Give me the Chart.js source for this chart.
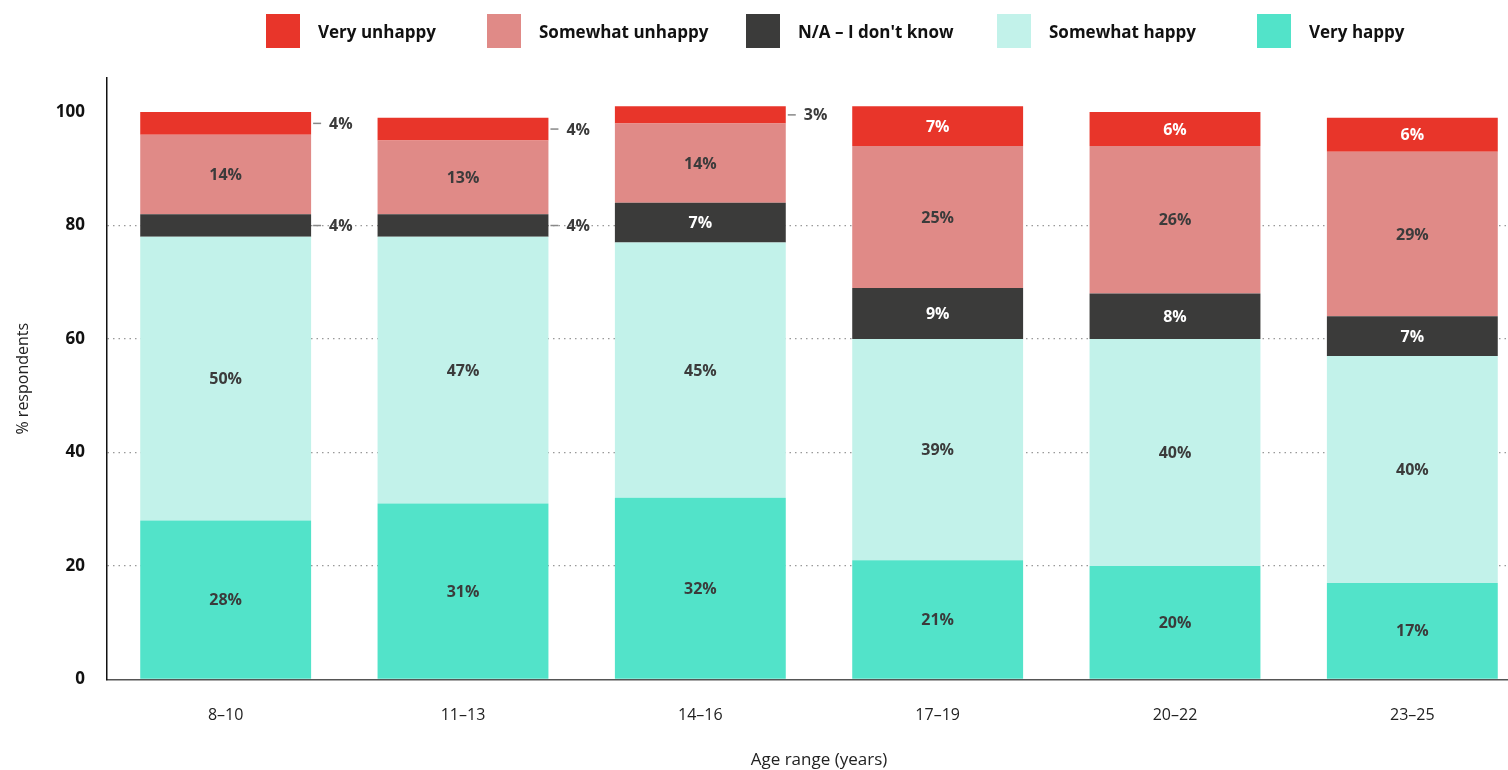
<!DOCTYPE html>
<html>
<head>
<meta charset="utf-8">
<script src="https://cdn.jsdelivr.net/npm/chart.js@4/dist/chart.umd.min.js"></script>
<style>
  body { margin: 0; overflow: hidden; background: #fff; font-family: 'Open Sans', sans-serif; }
  #wrap { position: relative; width: 1531px; height: 770px; }
  #legend { position: absolute; top: 14px; left: 0; height: 34px; width: 1531px; }
  .item { position: absolute; top: 0; display: flex; align-items: center; font-weight: 700; font-size: 17px; color: #111; white-space: nowrap; }
  .box { width: 34px; height: 34px; margin-right: 18px; }
</style>
</head>
<body>
<div id="wrap">
  <canvas id="chart" width="1531" height="770"></canvas>
  <div id="legend"></div>
</div>
<script>
"use strict"

const categories = ['8–10', '11–13', '14–16', '17–19', '20–22', '23–25'];
const veryHappy = [28, 31, 32, 21, 20, 17];
const somewhatHappy = [50, 47, 45, 39, 40, 40];
const dontKnow = [4, 4, 7, 9, 8, 7];
const somewhatUnhappy = [14, 13, 14, 25, 26, 29];
const veryUnhappy = [4, 4, 3, 7, 6, 6];
const yTicks = [0, 20, 40, 60, 80, 100];

const FONT = "'Open Sans'";

// bottom to top, label colour inside the bar
const series = [
  { label: 'Very happy', data: veryHappy, color: '#52e3c9', text: '#3b3b3b' },
  { label: 'Somewhat happy', data: somewhatHappy, color: '#c2f2ea', text: '#3b3b3b' },
  { label: 'N/A – I don\'t know', data: dontKnow, color: '#3b3b3a', text: '#ffffff' },
  { label: 'Somewhat unhappy', data: somewhatUnhappy, color: '#e08a87', text: '#3b3b3b' },
  { label: 'Very unhappy', data: veryUnhappy, color: '#e8352a', text: '#ffffff' },
];

// legend, top of stack first
const legendLeft = [266, 487, 746, 997, 1257];
const legend = document.getElementById('legend');
series.slice().reverse().forEach((s, k) => {
  const item = document.createElement('div');
  item.className = 'item';
  item.style.left = legendLeft[k] + 'px';
  item.innerHTML = '<span class="box" style="background:' + s.color + '"></span><span>' + s.label + '</span>';
  legend.appendChild(item);
});

const labelPlugin = {
  id: 'segLabels',
  afterDatasetsDraw(chart) {
    const { ctx } = chart;
    ctx.save();
    ctx.font = '700 16px ' + FONT;
    ctx.textBaseline = 'middle';
    chart.data.datasets.forEach((ds, i) => {
      const meta = chart.getDatasetMeta(i);
      meta.data.forEach((bar, j) => {
        const v = ds.data[j];
        const cy = (bar.y + bar.base) / 2;
        const txt = v + '%';
        if (v < 5) {
          const right = bar.x + bar.width / 2;
          ctx.strokeStyle = '#888';
          ctx.lineWidth = 1.5;
          ctx.beginPath();
          ctx.moveTo(right + 2, cy);
          ctx.lineTo(right + 10, cy);
          ctx.stroke();
          ctx.fillStyle = '#3b3b3b';
          ctx.textAlign = 'left';
          ctx.fillText(txt, right + 18, cy + 1);
        } else {
          ctx.fillStyle = series[i].text;
          ctx.textAlign = 'center';
          ctx.fillText(txt, bar.x, cy + 1);
        }
      });
    });
    ctx.restore();
  }
};

new Chart(document.getElementById('chart'), {
  type: 'bar',
  data: {
    labels: categories,
    datasets: series.map(s => ({
      label: s.label,
      data: s.data,
      backgroundColor: s.color,
      borderWidth: 0,
      categoryPercentage: 1,
      barPercentage: 0.72
    }))
  },
  options: {
    responsive: false,
    animation: false,
    layout: { padding: { top: 78, left: 0, right: 0, bottom: 0 } },
    plugins: {
      legend: { display: false },
      tooltip: { enabled: false }
    },
    scales: {
      x: {
        stacked: true,
        grid: { display: false },
        border: { color: '#555', width: 1.5 },
        ticks: { color: '#222', font: { family: FONT, size: 16 }, padding: 18 },
        title: { display: true, text: 'Age range (years)', color: '#222', font: { family: FONT, size: 17 }, padding: { top: 7, bottom: 0 } }
      },
      y: {
        stacked: true,
        min: 0,
        max: 106,
        afterBuildTicks: scale => { scale.ticks = yTicks.map(v => ({ value: v })); },
        afterFit: scale => { scale.width = 107; },
        grid: {
          drawTicks: false,
          color: c => (c.tick.value === 0 || c.tick.value === 100) ? 'transparent' : '#999',
          lineWidth: 1.2
        },
        border: { color: '#111', width: 1.5, dash: [1.5, 4] },
        ticks: { color: '#111', font: { family: FONT, size: 17, weight: '700' }, padding: 22 },
        title: { display: true, text: '% respondents', color: '#222', font: { family: FONT, size: 16 }, padding: { top: 14, bottom: 0 } }
      }
    }
  },
  plugins: [labelPlugin]
});
</script>
</body>
</html>
